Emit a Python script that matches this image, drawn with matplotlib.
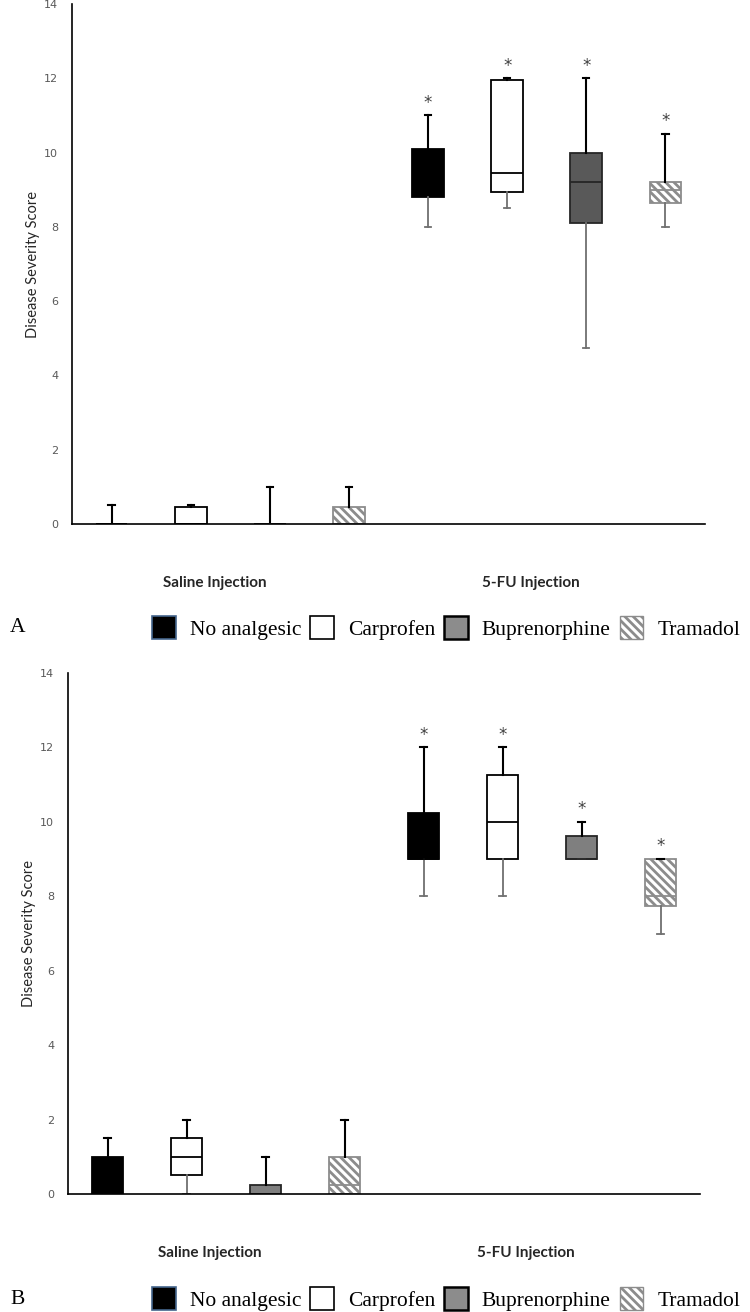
import matplotlib
matplotlib.use('Agg')
import matplotlib.pyplot as plt
import matplotlib.patches as mpatches

# categories and series
groups = ['Saline Injection', '5-FU Injection']
treatments = ['No analgesic', 'Carprofen', 'Buprenorphine', 'Tramadol']

# panel A box statistics: 4 saline boxes then 4 5-FU boxes
a_lo = [0, 0, 0, 0, 8.0, 8.5, 4.75, 8.0]
a_q1 = [0, 0, 0, 0, 8.8, 8.95, 8.1, 8.65]
a_med = [0, 0, 0, 0, 9.0, 9.45, 9.2, 9.0]
a_q3 = [0, 0.45, 0, 0.45, 10.1, 11.95, 10.0, 9.2]
a_hi = [0.5, 0.5, 1.0, 1.0, 11.0, 12.0, 12.0, 10.5]

# panel B box statistics
b_lo = [0, 0, 0, 0, 8.0, 8.0, 9.0, 7.0]
b_q1 = [0, 0.5, 0, 0, 9.0, 9.0, 9.0, 7.75]
b_med = [0, 1.0, 0, 0.25, 9.0, 10.0, 9.0, 8.0]
b_q3 = [1.0, 1.5, 0.25, 1.0, 10.25, 11.25, 9.625, 9.0]
b_hi = [1.5, 2.0, 1.0, 2.0, 12.0, 12.0, 10.0, 9.0]

# significance marks (only the 5-FU groups)
stars = [False, False, False, False, True, True, True, True]

yticks = [0, 2, 4, 6, 8, 10, 12, 14]

plt.rcParams['hatch.linewidth'] = 2.0

fig = plt.figure(figsize=(7.5, 13.12), dpi=100)


def panel(ax, lo, q1, med, q3, hi, bup_color):
    fills = ['black', 'white', bup_color, 'white']
    edges = ['black', 'black', '#262626', '#8c8c8c']
    hatches = [None, None, None, '\\\\\\\\']
    offsets = [-0.375, -0.125, 0.125, 0.375]
    stats, pos = [], []
    for g in range(2):
        for t in range(4):
            i = g * 4 + t
            stats.append(dict(med=med[i], q1=q1[i], q3=q3[i],
                              whislo=lo[i], whishi=hi[i]))
            pos.append(g + 0.5 + offsets[t])
    bp = ax.bxp(stats, positions=pos, widths=0.1, patch_artist=True,
                showfliers=False, capwidths=0.02, manage_ticks=False)
    for i, box in enumerate(bp['boxes']):
        t = i % 4
        box.set_facecolor(fills[t])
        box.set_edgecolor(edges[t])
        box.set_linewidth(1.3)
        if hatches[t]:
            box.set_hatch(hatches[t])
        bp['medians'][i].set_color(edges[t])
        bp['medians'][i].set_linewidth(1.3)
        # lower whisker grey, upper whisker black (Excel style)
        bp['whiskers'][2 * i].set_color('#707070')
        bp['whiskers'][2 * i].set_linewidth(1.3)
        bp['caps'][2 * i].set_color('#707070')
        bp['caps'][2 * i].set_linewidth(1.3)
        bp['whiskers'][2 * i + 1].set_color('black')
        bp['whiskers'][2 * i + 1].set_linewidth(1.5)
        bp['caps'][2 * i + 1].set_color('black')
        bp['caps'][2 * i + 1].set_linewidth(1.5)
        if stars[i]:
            ax.text(pos[i], hi[i] + 0.1, '*', ha='center', va='bottom',
                    fontsize=12, color='#404040')

    ax.set_xlim(0, 2)
    ax.set_ylim(0, 14)
    ax.set_yticks(yticks)
    ax.set_xticks([])
    ax.tick_params(axis='y', length=0, pad=10, labelsize=8,
                   labelcolor='#595959')
    for s in ['top', 'right']:
        ax.spines[s].set_visible(False)
    ax.spines['left'].set_linewidth(1.2)
    ax.spines['bottom'].set_linewidth(1.2)
    ax.set_ylabel('Disease Severity Score', family='Lato', fontsize=10.5,
                  labelpad=3, color='#262626')
    for g, name in enumerate(groups):
        ax.text(g + 0.45, -0.113, name, transform=ax.get_xaxis_transform(),
                ha='center', va='center', family='Lato', weight='bold',
                fontsize=11, color='#262626')


def legend_row(y, letter):
    handles = [
        mpatches.Patch(facecolor='black', edgecolor='#44658c', linewidth=1.2),
        mpatches.Patch(facecolor='white', edgecolor='black', linewidth=1.2),
        mpatches.Patch(facecolor='#8c8c8c', edgecolor='black', linewidth=1.8),
        mpatches.Patch(facecolor='white', edgecolor='#8c8c8c', linewidth=1.0,
                       hatch='\\\\\\\\'),
    ]
    fig.legend(handles, treatments, ncol=4, loc='center left',
               bbox_to_anchor=(152 / 750, y), frameon=False,
               prop={'family': 'Liberation Serif', 'size': 15.5},
               handlelength=1.1, handleheight=1.3, handletextpad=0.65,
               columnspacing=0.42, borderaxespad=0, borderpad=0)
    fig.text(10 / 750, y, letter, family='Liberation Serif', fontsize=15.5,
             va='center', ha='left')


ax_a = fig.add_axes([72 / 750, 788 / 1312, 633 / 750, 520 / 1312])
panel(ax_a, a_lo, a_q1, a_med, a_q3, a_hi, '#595959')
legend_row(1 - 628 / 1312, 'A')

ax_b = fig.add_axes([68 / 750, 118 / 1312, 632 / 750, 521 / 1312])
panel(ax_b, b_lo, b_q1, b_med, b_q3, b_hi, '#7f7f7f')
legend_row(1 - 1299 / 1312, 'B')

plt.savefig('out.png', dpi=100)
plt.close()
